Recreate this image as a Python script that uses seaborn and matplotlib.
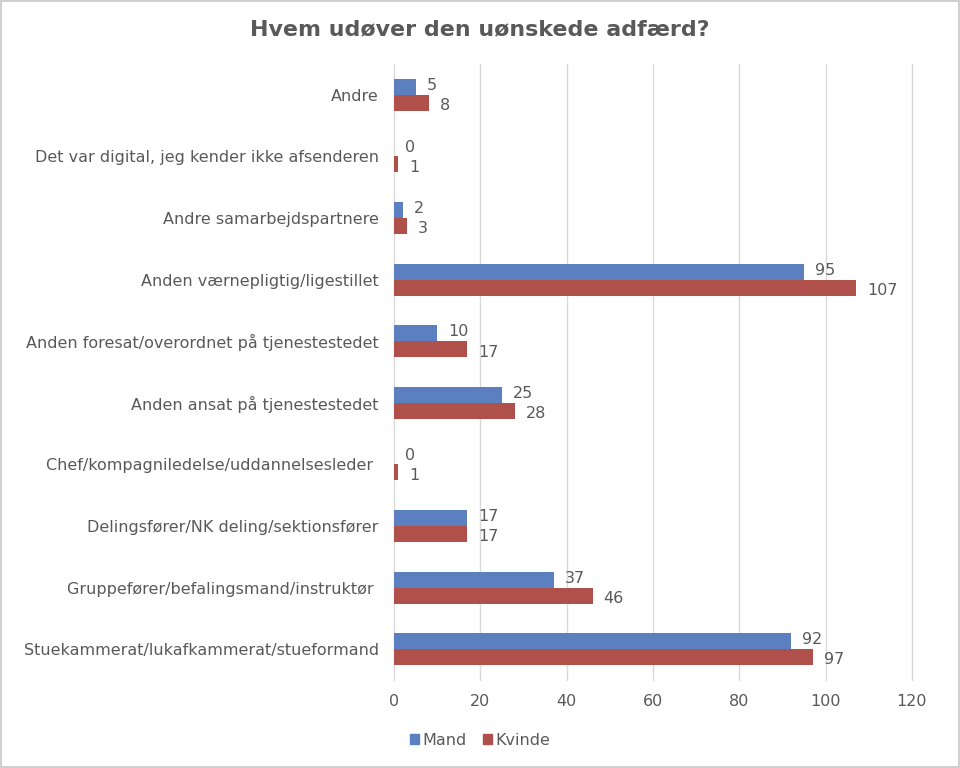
import matplotlib
matplotlib.use("Agg")
import matplotlib.pyplot as plt
import seaborn as sns
import pandas as pd

categories = [
    "Andre",
    "Det var digital, jeg kender ikke afsenderen",
    "Andre samarbejdspartnere",
    "Anden værnepligtig/ligestillet",
    "Anden foresat/overordnet på tjenestestedet",
    "Anden ansat på tjenestestedet",
    "Chef/kompagniledelse/uddannelsesleder ",
    "Delingsfører/NK deling/sektionsfører",
    "Gruppefører/befalingsmand/instruktør ",
    "Stuekammerat/lukafkammerat/stueformand",
]
mand = [5, 0, 2, 95, 10, 25, 0, 17, 37, 92]
kvinde = [8, 1, 3, 107, 17, 28, 1, 17, 46, 97]
series = ["Mand", "Kvinde"]
colors = ["#5B7FBF", "#B0504A"]
xticks = [0, 20, 40, 60, 80, 100, 120]
title = "Hvem udøver den uønskede adfærd?"

df = pd.DataFrame({
    "Kategori": categories * 2,
    "Værdi": mand + kvinde,
    "Køn": ["Mand"] * len(categories) + ["Kvinde"] * len(categories),
})

sns.set_theme(style="white")
plt.rcParams["font.family"] = ["DejaVu Sans"]
txt = "#595959"
fs = 11.5

fig = plt.figure(figsize=(9.6, 7.68), dpi=100, linewidth=1.5, edgecolor="#d0d0d0")
ax = fig.add_axes([0.4104, 0.1146, 0.5396, 0.802])

sns.barplot(data=df, y="Kategori", x="Værdi", hue="Køn", hue_order=series,
            palette=colors, orient="h", width=0.52, ax=ax, saturation=1,
            linewidth=0, legend=True)

ax.set_xlim(0, 120)
ax.set_xticks(xticks)
ax.set_xlabel("")
ax.set_ylabel("")
ax.grid(axis="x", color="#d9d9d9", linewidth=1)
for gl in ax.get_xgridlines():
    gl.set_clip_on(False)
ax.set_axisbelow(True)
for s in ax.spines.values():
    s.set_visible(False)
ax.tick_params(axis="y", length=0, pad=11, labelsize=fs, labelcolor=txt)
ax.tick_params(axis="x", length=0, pad=10, labelsize=fs, labelcolor=txt)

offsets = [1, -2]
for cont, dy in zip(ax.containers, offsets):
    for p, v in zip(cont.patches, cont.datavalues):
        ax.annotate(f"{int(v)}", (p.get_width(), p.get_y() + p.get_height() / 2),
                    xytext=(8, dy), textcoords="offset points",
                    ha="left", va="center", fontsize=fs, color=txt)

ax.get_legend().remove()
handles = [plt.Rectangle((0, 0), 1, 1, color=c) for c in colors]
fig.legend(handles, series, loc="center", bbox_to_anchor=(0.5, 0.036), ncol=2,
           frameon=False, fontsize=fs, labelcolor=txt, handlelength=0.6,
           handleheight=0.6, handletextpad=0.2, columnspacing=1.0)

fig.text(0.5, 0.962, title, ha="center", va="center", fontsize=15.9,
         fontweight="bold", color=txt)

fig.savefig("out.png", dpi=100)
